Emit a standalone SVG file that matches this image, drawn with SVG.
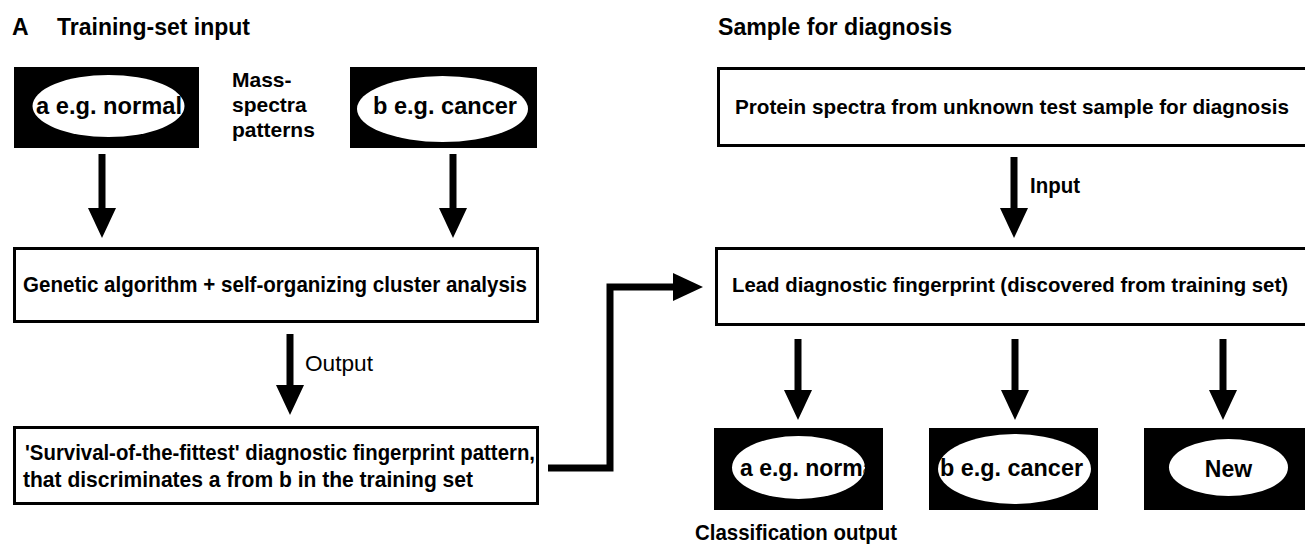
<svg xmlns="http://www.w3.org/2000/svg" width="1305" height="544" viewBox="0 0 1305 544">
  <style>
    text { font-family: "Liberation Sans", Arial, sans-serif; font-weight: bold; fill: #000; }
    .title { font-size: 23px; }
    .body { font-size: 21.5px; }
    .wide { font-size: 20.4px; }
    .ell { font-size: 23px; }
    .lbl { font-size: 21px; }
    .box { fill: #fff; stroke: #000; stroke-width: 3; }
    .open { fill: none; stroke: #000; stroke-width: 3; }
    .blk { fill: #000; }
    .oval { fill: #fff; }
    .conn { fill: none; stroke: #000; stroke-width: 7; }
  </style>
  <defs>
    <marker id="head" markerUnits="userSpaceOnUse" viewBox="0 0 30 28" markerWidth="30" markerHeight="28" refX="0" refY="14" orient="auto">
      <path d="M0,0 L30,14 L0,28 Z" fill="#000"/>
    </marker>
    <clipPath id="clipR1">
      <ellipse cx="798.5" cy="467.5" rx="66.5" ry="31.5"/>
    </clipPath>
  </defs>

  <g id="title-left">
    <text class="title" x="12" y="35">A</text>
    <text class="title" x="57" y="35" textLength="193" lengthAdjust="spacingAndGlyphs">Training-set input</text>
  </g>
  <g id="title-right">
    <text class="title" x="718" y="35" textLength="234" lengthAdjust="spacingAndGlyphs">Sample for diagnosis</text>
  </g>

  <g id="node-a">
    <rect class="blk" x="14" y="67" width="185" height="81"/>
    <ellipse class="oval" cx="108.5" cy="106" rx="76" ry="31"/>
    <text class="ell" x="36" y="114" textLength="146" lengthAdjust="spacingAndGlyphs">a e.g. normal</text>
  </g>
  <g id="mass-spectra-label">
    <text class="lbl" x="232" y="87">Mass-</text>
    <text class="lbl" x="232" y="112">spectra</text>
    <text class="lbl" x="232" y="137">patterns</text>
  </g>
  <g id="node-b">
    <rect class="blk" x="350" y="67" width="187" height="81"/>
    <ellipse class="oval" cx="442.5" cy="109" rx="85.5" ry="33"/>
    <text class="ell" x="373" y="114" textLength="144" lengthAdjust="spacingAndGlyphs">b e.g. cancer</text>
  </g>

  <g id="node-genetic">
    <rect class="box" x="14.5" y="248.5" width="523" height="73"/>
    <text class="body" x="23" y="292" textLength="504" lengthAdjust="spacingAndGlyphs">Genetic algorithm + self-organizing cluster analysis</text>
  </g>

  <g id="node-survival">
    <rect class="box" x="14.5" y="427.5" width="523" height="76"/>
    <text class="body" x="25" y="460" textLength="510" lengthAdjust="spacingAndGlyphs">'Survival-of-the-fittest' diagnostic fingerprint pattern,</text>
    <text class="body" x="23" y="487" textLength="450" lengthAdjust="spacingAndGlyphs">that discriminates a from b in the training set</text>
  </g>

  <g id="node-protein">
    <path class="open" d="M1305,68.5 H718.5 V145.5 H1305"/>
    <text class="wide" x="735" y="114" textLength="554" lengthAdjust="spacingAndGlyphs">Protein spectra from unknown test sample for diagnosis</text>
  </g>

  <g id="node-lead">
    <path class="open" d="M1305,248.5 H716.5 V324.5 H1305"/>
    <text class="wide" x="732" y="292" textLength="556" lengthAdjust="spacingAndGlyphs">Lead diagnostic fingerprint (discovered from training set)</text>
  </g>

  <g id="node-result-a">
    <rect class="blk" x="714" y="428" width="169" height="82"/>
    <ellipse class="oval" cx="798.5" cy="467.5" rx="66.5" ry="31.5"/>
    <text class="ell" x="740" y="476" clip-path="url(#clipR1)">a e.g. normal</text>
  </g>
  <g id="node-result-b">
    <rect class="blk" x="929" y="428" width="169" height="82"/>
    <ellipse class="oval" cx="1014.5" cy="469" rx="76.5" ry="35"/>
    <text class="ell" x="940" y="476" textLength="143" lengthAdjust="spacingAndGlyphs">b e.g. cancer</text>
  </g>
  <g id="node-result-new">
    <rect class="blk" x="1144" y="428" width="161" height="82"/>
    <ellipse class="oval" cx="1228.5" cy="467.5" rx="59.5" ry="28.5"/>
    <text class="ell" x="1228.5" y="477" text-anchor="middle">New</text>
  </g>
  <g id="classification-label">
    <text class="body" x="695" y="540" textLength="202" lengthAdjust="spacingAndGlyphs">Classification output</text>
  </g>

  <g id="connectors">
    <line class="conn" x1="102" y1="154" x2="102" y2="208" marker-end="url(#head)"/>
    <line class="conn" x1="453" y1="154" x2="453" y2="208" marker-end="url(#head)"/>
    <line class="conn" x1="290" y1="334" x2="290" y2="385" marker-end="url(#head)"/>
    <text x="305" y="371" style="font-weight:normal;font-size:22px" textLength="68" lengthAdjust="spacingAndGlyphs">Output</text>
    <line class="conn" x1="1014" y1="157" x2="1014" y2="208" marker-end="url(#head)"/>
    <text class="body" x="1030" y="193" textLength="50" lengthAdjust="spacingAndGlyphs">Input</text>
    <path class="conn" d="M548,468 H610 V287 H673" marker-end="url(#head)"/>
    <line class="conn" x1="798" y1="339" x2="798" y2="390" marker-end="url(#head)"/>
    <line class="conn" x1="1015" y1="339" x2="1015" y2="390" marker-end="url(#head)"/>
    <line class="conn" x1="1223" y1="339" x2="1223" y2="390" marker-end="url(#head)"/>
  </g>
</svg>
